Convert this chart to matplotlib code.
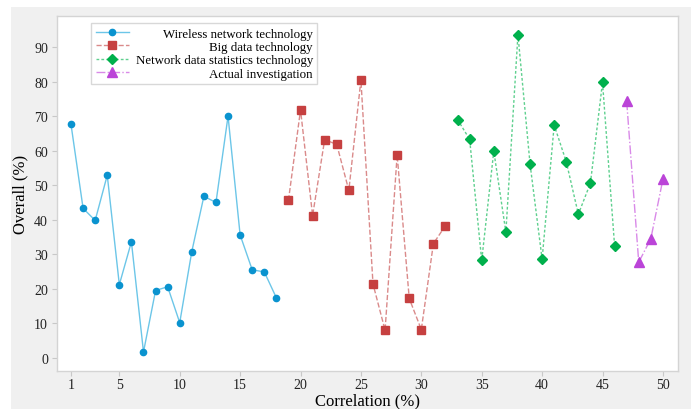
import matplotlib
matplotlib.use("Agg")
import matplotlib.pyplot as plt
from matplotlib.patches import Rectangle

plt.rcParams["font.family"] = ["Liberation Serif", "DejaVu Serif"]

# data
x_wireless = list(range(1, 19))
y_wireless = [67.6, 43.3, 39.8, 52.9, 21.2, 33.6, 1.7, 19.5, 20.6, 10.2,
              30.8, 46.8, 45.0, 70.0, 35.6, 25.5, 24.9, 17.4]
x_bigdata = list(range(19, 33))
y_bigdata = [45.6, 71.8, 41.2, 63.2, 61.8, 48.5, 80.5, 21.4, 8.0, 58.8,
             17.2, 8.2, 33.1, 38.3]
x_netstat = list(range(33, 47))
y_netstat = [69.0, 63.3, 28.2, 59.9, 36.4, 93.6, 56.2, 28.6, 67.4, 56.8,
             41.6, 50.6, 79.8, 32.5]
x_actual = list(range(47, 51))
y_actual = [74.3, 27.7, 34.5, 51.7]

labels = ["Wireless network technology", "Big data technology",
          "Network data statistics technology", "Actual investigation"]
xticks = [1, 5, 10, 15, 20, 25, 30, 35, 40, 45, 50]
yticks = list(range(0, 100, 10))

fig = plt.figure(figsize=(6.91, 4.10), dpi=100, facecolor="#f0f0f0")
# white strip around the grey panel (left and top)
fig.patches.append(Rectangle((0, 0), 11 / 691, 1, transform=fig.transFigure,
                             facecolor="white", edgecolor="none", zorder=-10))
fig.patches.append(Rectangle((0, 1 - 8 / 410), 1, 8 / 410, transform=fig.transFigure,
                             facecolor="white", edgecolor="none", zorder=-10))

ax = fig.add_axes([57 / 691, 38 / 410, 621 / 691, 355 / 410])
ax.set_facecolor("white")

ax.plot(x_wireless, y_wireless, "-", color="#6cc6e8", lw=1.0,
        marker="o", ms=4.5, mfc="#0a93cf", mec="#0a93cf", label=labels[0])
ax.plot(x_bigdata, y_bigdata, "--", color="#da8a8a", lw=1.0,
        marker="s", ms=5.5, mfc="#c64040", mec="#c64040", label=labels[1])
ax.plot(x_netstat, y_netstat, linestyle=(0, (2, 1.5)), color="#5fd08f", lw=1.0,
        marker="D", ms=5, mfc="#00b04c", mec="#00b04c", label=labels[2])
ax.plot(x_actual, y_actual, "-.", color="#d98ae8", lw=1.0,
        marker="^", ms=7, mfc="#bb44d8", mec="#bb44d8", label=labels[3])

ax.set_xlim(-0.16, 51.25)
ax.set_ylim(-3.8, 99)
ax.set_xticks(xticks)
ax.set_yticks(yticks)
ax.tick_params(direction="out", length=3.5, width=0.8, color="#c8c8c8",
               labelsize=10, labelcolor="#222222")
ax.tick_params(axis="x", pad=1.5)
ax.tick_params(axis="y", pad=3)
for sp in ax.spines.values():
    sp.set_color("#d4d4d4")
    sp.set_linewidth(1.0)

ax.set_xlabel("Correlation (%)", fontsize=12, labelpad=1)
ax.set_ylabel("Overall (%)", fontsize=12, labelpad=4)

leg = ax.legend(loc="upper left", bbox_to_anchor=(34 / 621, 348 / 355),
                borderaxespad=0, fontsize=9.3,
                handlelength=2.6, handletextpad=0.5, borderpad=0.35,
                labelspacing=0.1, fancybox=False, edgecolor="#d8d8d8",
                framealpha=1)
leg.get_frame().set_linewidth(1.0)

# right-align legend texts by shifting each one by its missing width
fig.canvas.draw()
renderer = fig.canvas.get_renderer()
widths = [t.get_window_extent(renderer).width for t in leg.get_texts()]
for t, w in zip(leg.get_texts(), widths):
    t.set_position((max(widths) - w, 0))

fig.savefig("out.png", dpi=100, facecolor=fig.get_facecolor())
